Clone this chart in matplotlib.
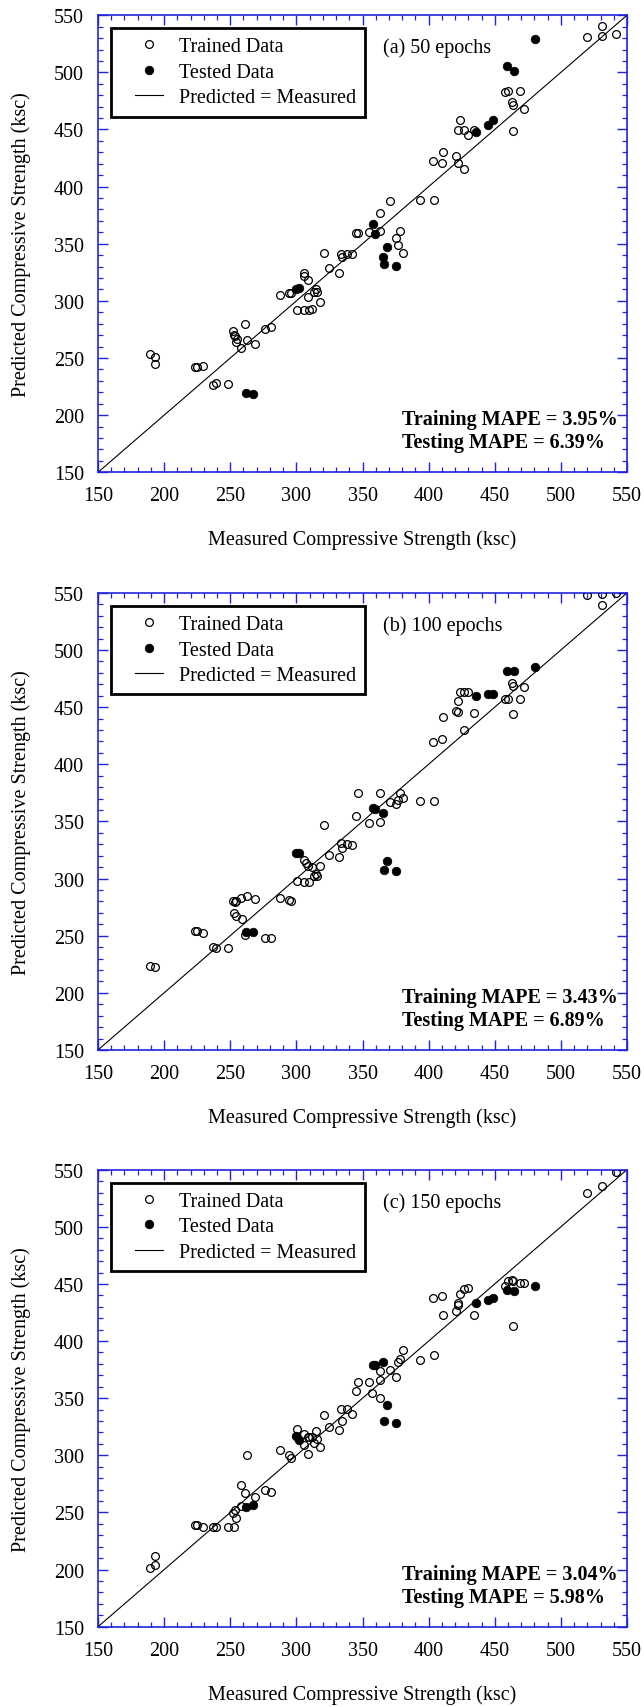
import matplotlib
matplotlib.use("Agg")
import matplotlib.pyplot as plt
from matplotlib.ticker import MultipleLocator
from matplotlib.lines import Line2D
from matplotlib.legend_handler import HandlerLine2D

plt.rcParams['font.family'] = ['Liberation Serif', 'DejaVu Serif']

# (a) 50 epochs
meas_train_a = [189.5, 193, 193, 223.7, 225, 229.6, 237, 239.5, 248.5, 252, 252.6, 253.5, 254.4, 255, 258,
                261, 262.5, 268.7, 276.5, 281, 287.4, 294.5, 296, 300.7, 305.4, 306, 306, 308.5, 308.5, 309.7,
                312, 313.5, 315, 315.7, 317.8, 321, 325, 332, 333.4, 334.3, 338, 342.4, 345, 346.7, 354.8,
                362.9, 363.2, 371, 375, 377.2, 378.4, 380.3, 393.7, 404.2, 403.6, 409.8, 410.5, 420.7, 422, 422,
                424, 426.6, 426.6, 429.4, 434.4, 457.7, 459.9, 463, 463.6, 464, 469.2, 472, 519.5, 531, 531.3, 541.9]
pred_train_a = [253.1, 250.6, 245, 242.2, 242, 242.8, 226, 227.8, 227.5, 273.4, 270, 269, 264, 267, 258.4,
                280, 266, 262.2, 275, 276.9, 305, 306.6, 306.6, 292, 292, 324, 321.6, 318, 303.8, 292,
                292.8, 307.8, 310, 307.5, 299, 342.2, 328.4, 324.7, 340.6, 338.4, 340.6, 341, 359.7, 359.7, 360,
                376.9, 360.9, 387.5, 355, 349, 360.9, 341.9, 388.4, 388.7, 422.8, 420.9, 430, 426.6, 420.9, 449.4,
                458.4, 415, 449.4, 445.6, 449.4, 482.8, 484, 474, 471.6, 448.7, 483.4, 467.8, 531.3, 540.3, 532.2, 533.8]
meas_test_a = [262.2, 266.9, 299.5, 301.7, 357.6, 359.5, 365.4, 366.6, 368.5, 375,
               435.6, 444.6, 449, 459.6, 464.2, 480.4]
pred_test_a = [219.4, 218.1, 310, 311.6, 366.9, 358.8, 338.4, 332.5, 346.9, 330.6,
               447.5, 454.1, 458.1, 505.3, 501.6, 529.4]

# (b) 100 epochs
meas_train_b = [189.5, 192.9, 223.7, 224.9, 229.6, 237, 239.5, 248.5, 252.2, 253.5, 254.4, 252.6, 254.4, 258, 258.8,
                261, 262.5, 268.7, 276.5, 281, 287.4, 294.5, 296, 300.7, 305.4, 306, 307.3, 308.5, 309.7, 312,
                313.5, 315, 315.7, 317.8, 321, 325, 332, 333.4, 334.3, 338, 342.4, 345, 346.7, 354.8, 362.9,
                363.2, 371, 375, 377.2, 378.4, 380.3, 393.7, 404.2, 403.6, 409.8, 410.5, 420.7, 422, 422, 424,
                426.6, 426.6, 429.4, 434.4, 457.7, 459.9, 463, 463.6, 464, 469.2, 472, 519.5, 531, 531.3, 541.9]
pred_train_b = [223.3, 222.7, 254.5, 254.2, 252.7, 240.2, 238.9, 239.2, 280.1, 279.5, 280.1, 269.5, 267, 282.6, 264.8,
                250.2, 284.8, 282, 247.7, 248.3, 282.6, 281.4, 280.7, 297.6, 297.3, 316, 313.2, 310.7, 297.3, 310.1,
                302, 303.8, 302, 311.3, 346.6, 321, 318.8, 330.7, 326.3, 330.4, 329.1, 354.7, 375, 349, 375,
                349.4, 366.9, 365.6, 368.4, 375, 370.3, 367.5, 367.8, 419.9, 422.4, 441.7, 446.7, 445.5, 455.8, 463.6,
                430.2, 463.6, 463.6, 444.9, 457, 457.3, 470.8, 468.9, 444.2, 457.3, 467.3, 548.1, 548.8, 539.7, 550]
meas_test_b = [262.2, 266.9, 299.5, 301.7, 357.6, 359.5, 365.4, 366.6, 368.5, 375,
               435.6, 444.6, 449, 459.6, 464.2, 480.4]
pred_test_b = [253.3, 253.3, 322.2, 322.2, 361.6, 360.6, 357.2, 307.9, 315.4, 306.6,
               460.1, 461.1, 461.7, 481.7, 481.4, 485.4]

# (c) 150 epochs
meas_train_c = [189.5, 193.2, 193.2, 223.7, 225, 229.6, 237, 239.5, 248.5, 253.2, 252.2, 253.5, 254.4, 258, 258,
                261, 262.5, 268.7, 276.5, 281, 287.4, 294.5, 296, 300.7, 305.4, 306, 308.5, 308.5, 309.7, 312,
                313.5, 315, 315.7, 317.8, 321, 325, 332, 333.4, 334.3, 338, 342.4, 345, 346.7, 354.8, 357,
                362.9, 363.2, 363.2, 371, 375, 377.2, 378.4, 380.3, 393.7, 404.2, 403.6, 409.8, 410.5, 420.7, 422,
                422, 424, 426.6, 429.4, 434.4, 457.7, 459.9, 463, 463.6, 464, 469.2, 472, 519.5, 531.3, 541.9]
pred_train_c = [201.6, 203.9, 212.2, 239.3, 239.3, 237.7, 237.4, 237.4, 237.4, 237.4, 249.6, 252.2, 245.1, 274.4, 255.7,
                267.3, 299.9, 263.5, 269.9, 268.3, 304.7, 299.9, 297.6, 323.4, 309.2, 318.3, 300.9, 316, 316, 315.7,
                311.2, 321.2, 314.4, 307.3, 335.7, 324.7, 322.1, 340.2, 329.9, 340.2, 336, 356.3, 364, 364.4, 354.4,
                373.7, 366, 350.2, 375, 368.9, 381.4, 384.7, 392.4, 383.4, 387.6, 437.5, 439.5, 423, 426.6, 433.6,
                431.4, 441.1, 445.6, 446.5, 422.7, 448.5, 452.3, 453.6, 452.3, 413.3, 451, 451, 529.7, 535.8, 547.7]
meas_test_c = [262.2, 266.9, 299.5, 301.7, 357.6, 359.5, 365.4, 366.6, 368.5, 375,
               435.6, 444.6, 449, 459.6, 464.2, 480.4]
pred_test_c = [255.1, 256.4, 316.7, 313.4, 378.9, 379.2, 381.8, 330.2, 344.1, 328.3,
               433.6, 436.2, 437.5, 444.9, 443.9, 448.1]

panel_titles = ["(a) 50 epochs", "(b) 100 epochs", "(c) 150 epochs"]
train_mape = ["3.95%", "3.43%", "3.04%"]
test_mape = ["6.39%", "6.89%", "5.98%"]
diag = [150, 550]

panels = [
    (meas_train_a, pred_train_a, meas_test_a, pred_test_a),
    (meas_train_b, pred_train_b, meas_test_b, pred_test_b),
    (meas_train_c, pred_train_c, meas_test_c, pred_test_c),
]

blue = '#2222dd'
fs = 14.5

fig = plt.figure(figsize=(6.44, 17.08), dpi=100)
bottoms = [0.7229, 0.3847, 0.0470]

for i, (mx, py, tx, ty) in enumerate(panels):
    ax = fig.add_axes([0.1522, bottoms[i], 0.8214, 0.2676])
    ax.plot(mx, py, 'o', ms=5.6, mfc='none', mec='black', mew=0.9, label='Trained Data', zorder=3)
    ax.plot(tx, ty, 'o', ms=6.2, mfc='black', mec='black', mew=0.5, label='Tested Data', zorder=4)
    ax.plot(diag, diag, '-', color='black', lw=0.8, label='Predicted = Measured', zorder=2)

    ax.set_xlim(150, 550)
    ax.set_ylim(150, 550)
    ax.xaxis.set_major_locator(MultipleLocator(50))
    ax.yaxis.set_major_locator(MultipleLocator(50))
    ax.xaxis.set_minor_locator(MultipleLocator(10))
    ax.yaxis.set_minor_locator(MultipleLocator(10))
    ax.tick_params(which='both', direction='in', top=True, right=True, color=blue,
                   labelsize=fs, pad=10)
    ax.tick_params(which='major', length=7, width=1)
    ax.tick_params(which='minor', length=3.6, width=0.9)
    for sp in ax.spines.values():
        sp.set_color(blue)
        sp.set_linewidth(1.2)

    ax.set_xlabel("Measured Compressive Strength (ksc)", fontsize=fs)
    ax.set_ylabel("Predicted Compressive Strength (ksc)", fontsize=fs)
    ax.xaxis.set_label_coords(0.5, -0.125)
    ax.yaxis.set_label_coords(-0.127, 0.5)

    # xpad pushes the handles right, away from the frame edge
    leg = ax.legend(loc='upper left', bbox_to_anchor=(0.0246, 0.9716), borderaxespad=0,
                    fontsize=fs, frameon=True, fancybox=False, handlelength=2.14,
                    handletextpad=0.8, labelspacing=0.32, borderpad=0.45,
                    handler_map={Line2D: HandlerLine2D(xpad=0.75)})
    leg.get_frame().set_edgecolor('black')
    leg.get_frame().set_linewidth(2)
    leg.get_frame().set_alpha(1)

    ax.text(0.539, 0.93, panel_titles[i], transform=ax.transAxes, fontsize=fs,
            ha='left', va='center')
    ax.text(0.575, 0.116, "Training MAPE = " + train_mape[i], transform=ax.transAxes,
            fontsize=fs, fontweight='bold', ha='left', va='center')
    ax.text(0.575, 0.066, "Testing MAPE = " + test_mape[i], transform=ax.transAxes,
            fontsize=fs, fontweight='bold', ha='left', va='center')

fig.savefig("out.png", dpi=100)
